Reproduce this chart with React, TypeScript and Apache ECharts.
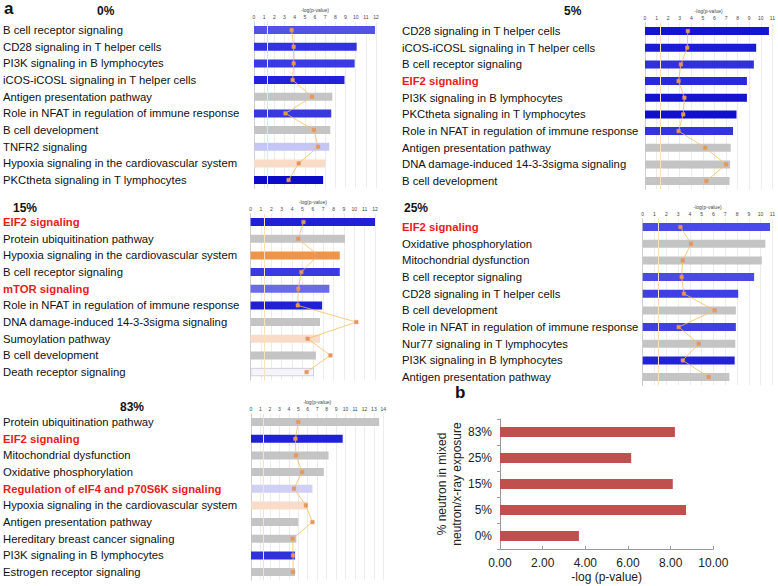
import React, { useEffect, useRef } from "react";
import * as echarts from "echarts";

// ---------- data ----------
const labels0 = ["B cell receptor signaling", "CD28 signaling in T helper cells", "PI3K signaling in B lymphocytes", "iCOS-iCOSL signaling in T helper cells", "Antigen presentation pathway", "Role in NFAT in regulation of immune response", "B cell development", "TNFR2 signaling", "Hypoxia signaling in the cardiovascular system", "PKCtheta signaling in T lymphocytes"];
const values0 = [11.9, 10.1, 9.9, 8.9, 7.7, 7.6, 7.5, 7.4, 7.0, 6.8];
const ratio0 = [3.7, 3.9, 3.9, 3.8, 5.7, 3.1, 5.9, 6.3, 4.4, 3.4];

const labels5 = ["CD28 signaling in T helper cells", "iCOS-iCOSL signaling in T helper cells", "B cell receptor signaling", "EIF2 signaling", "PI3K signaling in B lymphocytes", "PKCtheta signaling in T lymphocytes", "Role in NFAT in regulation of immune response", "Antigen presentation pathway", "DNA damage-induced 14-3-3sigma signaling", "B cell development"];
const values5 = [10.7, 9.6, 9.4, 8.8, 8.8, 7.9, 7.6, 7.4, 7.35, 7.3];
const ratio5 = [3.7, 3.65, 3.1, 2.9, 3.4, 3.3, 2.9, 5.2, 7.0, 5.3];

const labels15 = ["EIF2 signaling", "Protein ubiquitination pathway", "Hypoxia signaling in the cardiovascular system", "B cell receptor signaling", "mTOR signaling", "Role in NFAT in regulation of immune response", "DNA damage-induced 14-3-3sigma signaling", "Sumoylation pathway", "B cell development", "Death receptor signaling"];
const values15 = [12.0, 9.1, 8.6, 8.6, 7.6, 6.9, 6.7, 6.7, 6.3, 6.1];
const ratio15 = [5.1, 4.6, 6.5, 4.9, 4.6, 4.55, 10.2, 5.5, 7.7, 5.4];

const labels25 = ["EIF2 signaling", "Oxidative phosphorylation", "Mitochondrial dysfunction", "B cell receptor signaling", "CD28 signaling in T helper cells", "B cell development", "Role in NFAT in regulation of immune response", "Nur77 signaling in T lymphocytes", "PI3K signaling in B lymphocytes", "Antigen presentation pathway"];
const values25 = [10.8, 10.4, 10.1, 9.45, 8.1, 7.9, 7.9, 7.85, 7.8, 7.35];
const ratio25 = [3.2, 4.1, 3.4, 3.3, 3.5, 6.1, 3.05, 4.75, 3.4, 5.6];

const labels83 = ["Protein ubiquitination pathway", "EIF2 signaling", "Mitochondrial dysfunction", "Oxidative phosphorylation", "Regulation of eIF4 and p70S6K signaling", "Hypoxia signaling in the cardiovascular system", "Antigen presentation pathway", "Hereditary breast cancer signaling", "PI3K signaling in B lymphocytes", "Estrogen receptor signaling"];
const values83 = [13.55, 9.7, 8.2, 7.7, 6.5, 6.0, 5.0, 4.8, 4.65, 4.65];
const ratio83 = [5.0, 4.7, 4.75, 5.4, 4.55, 5.8, 6.5, 4.4, 4.45, 4.45];

const highlighted = ["EIF2 signaling", "mTOR signaling", "Regulation of eIF4 and p70S6K signaling"];

const exposureCategories = ["0%", "5%", "15%", "25%", "83%"];
const eif2Values = [3.7, 8.72, 8.1, 6.15, 8.2];
const exposureTicks = [0, 2, 4, 6, 8, 10];

// ---------- styles ----------
const G = "#c4c4c4";
const colors0 = ["#5252e8", "#3232e0", "#3a3ae2", "#2222da", G, "#3838e0", G, "#c6c6f4", "#f9dcc8", "#0c0cc8"];
const colors5 = ["#1414d4", "#1c1cd8", "#3030dc", "#2a2ada", "#1414d0", "#1010cc", "#3434dc", G, G, G];
const colors15 = ["#2020d8", G, "#f09448", "#3a3ae0", "#6a6ae8", "#2020d6", G, "#f9dcc8", G, "#f4f4fa"];
const colors25 = ["#4a4ae6", G, G, "#4a4ae6", "#4040e2", G, "#4040e2", G, "#2222d8", G];
const colors83 = [G, "#2020d6", G, G, "#d0d0f6", "#f9dcc8", G, G, "#3030dc", G];

const FONT = "'Liberation Sans', Arial, Helvetica, sans-serif";
const LABEL_SIZE = 11.3;

type Panel = {
  title: string; labels: string[]; values: number[]; ratio: number[]; colors: string[];
  left: number; top: number; max: number; unit: number; labelX: number;
  titleX: number; titleY: number;
};

const panels: Panel[] = [
  { title: "0%", labels: labels0, values: values0, ratio: ratio0, colors: colors0, left: 250, top: 21.7, max: 12, unit: 10.5, labelX: -1, titleX: 97, titleY: 5 },
  { title: "5%", labels: labels5, values: values5, ratio: ratio5, colors: colors5, left: 645, top: 22.7, max: 11, unit: 11.7, labelX: 402, titleX: 564, titleY: 5 },
  { title: "15%", labels: labels15, values: values15, ratio: ratio15, colors: colors15, left: 246.6, top: 213.7, max: 12, unit: 10.7, labelX: -1, titleX: 13, titleY: 202 },
  { title: "25%", labels: labels25, values: values25, ratio: ratio25, colors: colors25, left: 642.7, top: 218.7, max: 11, unit: 11.88, labelX: 402, titleX: 404, titleY: 202 },
  { title: "83%", labels: labels83, values: values83, ratio: ratio83, colors: colors83, left: 247, top: 413.7, max: 14, unit: 9.74, labelX: -1, titleX: 120, titleY: 401 },
];

export default function App() {
  const ref = useRef<HTMLDivElement>(null);
  useEffect(() => {
    if (!ref.current) return;
    const chart = echarts.init(ref.current, undefined, { renderer: "svg" });
    const ROWH = 16.67;

    const grids: any[] = [];
    const xAxes: any[] = [];
    const yAxes: any[] = [];
    const series: any[] = [];
    const titles: any[] = [];

    panels.forEach((p, i) => {
      grids.push({ left: p.left, top: p.top, width: p.max * p.unit, height: ROWH * p.labels.length, containLabel: false });
      xAxes.push({
        gridIndex: i, type: "value", position: "top", min: 0, max: p.max, interval: 1,
        name: "-log(p-value)", nameLocation: "middle", nameGap: 9,
        nameTextStyle: { fontSize: 5, color: "#444", fontFamily: FONT },
        axisLine: { show: false }, axisTick: { show: false },
        axisLabel: { fontSize: 5, color: "#444", margin: 2, fontFamily: FONT },
        splitLine: { show: true, lineStyle: { color: "#ececec", width: 1 } },
      });
      yAxes.push({
        gridIndex: i, type: "category", inverse: true, data: p.labels,
        axisLine: { show: true, lineStyle: { color: "#cfcfcf" } }, axisTick: { show: false },
        axisLabel: {
          interval: 0, align: "left", margin: p.left - p.labelX, fontSize: LABEL_SIZE, color: "#111", fontFamily: FONT,
          formatter: (v: string) => (highlighted.includes(v) ? `{r|${v}}` : v),
          rich: { r: { color: "#e81c1c", fontWeight: "bold", fontSize: LABEL_SIZE, fontFamily: FONT } },
        },
      });
      series.push({
        type: "bar", xAxisIndex: i, yAxisIndex: i, barWidth: 8,
        data: p.values.map((v, k) => ({
          value: v,
          itemStyle: { color: p.colors[k], borderColor: p.colors[k] === "#f4f4fa" ? "#b8b8cc" : "rgba(0,0,0,0)", borderWidth: p.colors[k] === "#f4f4fa" ? 0.6 : 0 },
        })),
        markLine: {
          silent: true, symbol: "none",
          lineStyle: { color: "#f8e2bc", width: 1, type: "solid" },
          label: { show: false },
          data: [{ xAxis: 1.3 }],
        },
      });
      series.push({
        type: "line", xAxisIndex: i, yAxisIndex: i, data: p.ratio,
        symbol: "rect", symbolSize: 3.5,
        lineStyle: { color: "#f3bf62", width: 0.8 },
        itemStyle: { color: "#e99a45", borderColor: "#e58e7a", borderWidth: 0.5 },
        z: 5,
      });
      titles.push({
        text: p.title, left: p.titleX, top: p.titleY, padding: 0,
        textStyle: { fontSize: 12, fontWeight: "bold", color: "#111", fontFamily: FONT },
      });
    });

    // panel b
    const bi = panels.length;
    grids.push({ left: 500, top: 419, width: 213.3, height: 130 });
    xAxes.push({
      gridIndex: bi, type: "value", min: exposureTicks[0], max: exposureTicks[exposureTicks.length - 1], interval: 2,
      name: "-log (p-value)", nameLocation: "middle", nameGap: 22,
      nameTextStyle: { fontSize: 12, color: "#222", fontFamily: FONT },
      axisLine: { show: true, lineStyle: { color: "#9a9a9a" } },
      axisTick: { show: true, inside: true, length: 3, lineStyle: { color: "#9a9a9a" } },
      axisLabel: { fontSize: 12, color: "#222", margin: 8, fontFamily: FONT, formatter: (v: number) => v.toFixed(2) },
      splitLine: { show: false },
    });
    yAxes.push({
      gridIndex: bi, type: "category", data: exposureCategories,
      name: "% neutron in mixed\nneutron/x-ray exposure", nameLocation: "middle", nameGap: 36, nameRotate: 90,
      nameTextStyle: { fontSize: 12, color: "#222", fontFamily: FONT, lineHeight: 15 },
      axisLine: { show: true, lineStyle: { color: "#9a9a9a" } },
      axisTick: { show: true, length: 3, lineStyle: { color: "#9a9a9a" } },
      axisLabel: { fontSize: 12, color: "#222", margin: 8, fontFamily: FONT },
    });
    series.push({
      type: "bar", xAxisIndex: bi, yAxisIndex: bi, data: eif2Values, barWidth: 10,
      itemStyle: { color: "#c0504d" },
    });

    titles.push({ text: "a", left: 4, top: 0, padding: 0, textStyle: { fontSize: 17, fontWeight: "bold", color: "#111", fontFamily: FONT } });
    titles.push({ text: "b", left: 455, top: 384, padding: 0, textStyle: { fontSize: 17, fontWeight: "bold", color: "#111", fontFamily: FONT } });

    chart.setOption({
      animation: false,
      backgroundColor: "#ffffff",
      textStyle: { fontFamily: FONT },
      title: titles,
      grid: grids,
      xAxis: xAxes,
      yAxis: yAxes,
      series,
    });
    return () => chart.dispose();
  }, []);
  return <div ref={ref} style={{ position: "fixed", left: 0, top: 0, width: 778, height: 586 }} />;
}
